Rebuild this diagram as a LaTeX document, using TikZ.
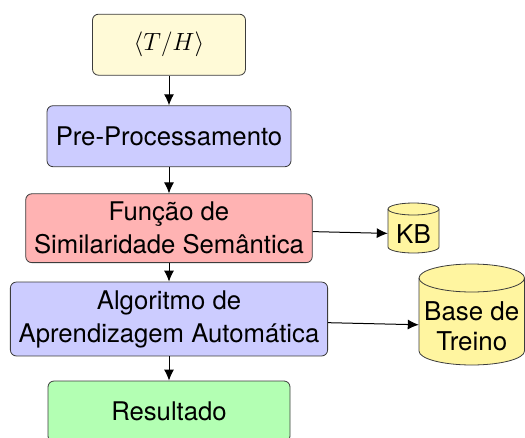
\documentclass[tikz,border=0pt]{standalone}
\usepackage{fontspec}
\setmainfont{TeX Gyre Heros}
\usetikzlibrary{arrows.meta}
\definecolor{thfill}{RGB}{255,250,215}
\definecolor{bluefill}{RGB}{204,204,255}
\definecolor{redfill}{RGB}{255,179,179}
\definecolor{greenfill}{RGB}{179,255,179}
\definecolor{dbfill}{RGB}{255,245,160}
\definecolor{bordercol}{RGB}{60,60,60}
\tikzset{
  stagebox/.style={draw=bordercol, line width=0.8pt, rounded corners=6pt, align=center,
    font=\fontsize{25.7}{33}\selectfont, inner sep=8.3pt, minimum height=61pt},
  dbtext/.style={align=center, font=\fontsize{25.9}{30}\selectfont, inner sep=0pt},
  dbshape/.style={draw=bordercol, line width=0.8pt, fill=dbfill},
  flow/.style={line width=1pt, -{Latex[length=11pt,width=10pt]}}
}
\begin{document}
\begin{tikzpicture}[x=1pt,y=1pt]
\useasboundingbox (0,0) rectangle (525,-437);
% cylinders
\path[dbshape] (388,-209) -- (388,-247) arc[start angle=180,end angle=360,x radius=25.5,y radius=6]
  -- (439,-209) arc[start angle=0,end angle=180,x radius=25.5,y radius=6] -- cycle;
\draw[dbshape, fill=none] (388,-209) arc[start angle=180,end angle=360,x radius=25.5,y radius=6];
\path[dbshape] (419,-278) -- (419,-351) arc[start angle=180,end angle=360,x radius=52.75,y radius=14]
  -- (524.5,-278) arc[start angle=0,end angle=180,x radius=52.75,y radius=14] -- cycle;
\draw[dbshape, fill=none] (419,-278) arc[start angle=180,end angle=360,x radius=52.75,y radius=14];
% nodes
\node[stagebox, fill=thfill, minimum width=153pt] (th) at (169,-44.7) {$\langle T/H\rangle$};
\node[stagebox, fill=bluefill, minimum width=244pt] (pre) at (169,-136.2) {Pre-Processamento};
\node[stagebox, fill=redfill] (fun) at (169,-228.2) {Função de\\Similaridade Semântica};
\node[stagebox, fill=bluefill] (alg) at (169,-319) {Algoritmo de\\Aprendizagem Automática};
\node[stagebox, fill=greenfill, minimum width=242pt] (res) at (169,-411.5) {Resultado};
\node[dbtext, minimum width=51pt] (kb) at (413.5,-234) {KB};
\node[dbtext, minimum width=105.5pt] (base) at (471.75,-326) {Base de\\Treino};
% connectors
\draw[flow] (th) -- (pre);
\draw[flow] (pre) -- (fun);
\draw[flow] (fun) -- (alg);
\draw[flow] (alg) -- (res);
\draw[flow] (fun) -- (kb);
\draw[flow] (alg) -- (base);
\end{tikzpicture}
\end{document}
